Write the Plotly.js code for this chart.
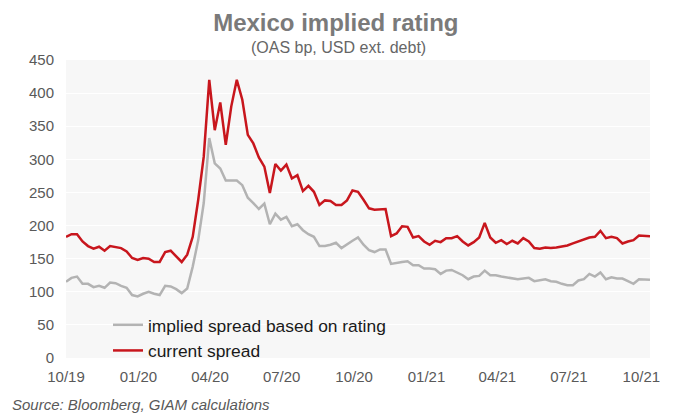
<!DOCTYPE html>
<html>
<head>
<meta charset="utf-8">
<script src="https://cdn.plot.ly/plotly-3.0.1.min.js"></script>
<style>html,body{margin:0;padding:0;background:#fff;}#chart{width:684px;height:414px;}</style>
</head>
<body>
<div id="chart"></div>
<script>
// Weekly observations starting 2019-10-01
const startDate = "2019-10-01";
const seriesNames = ["implied spread based on rating", "current spread"];
const impliedSpread = [
  115,121,123,112,112,107,109,106,114,113,
  109,106,95,93,97,100,97,95,109,108,
  104,98,105,138,178,234,332,294,286,268,
  268,268,261,242,234,225,233,202,218,209,
  213,199,202,193,187,183,169,169,171,174,
  166,172,177,182,171,163,160,164,164,142,
  144,145,146,140,140,135,135,134,127,132,
  133,129,125,119,123,124,132,125,125,123,
  122,121,119,120,121,116,118,119,116,115,
  112,110,110,117,119,127,123,129,119,122,
  120,120,116,112,119,118,118
];
const currentSpread = [
  183,187,187,176,169,165,168,162,169,168,
  166,161,151,148,151,150,145,145,160,162,
  153,145,156,183,239,304,420,344,386,322,
  380,420,390,337,324,303,289,249,293,283,
  292,271,276,252,260,251,231,238,237,231,
  231,238,253,251,239,226,224,225,225,184,
  188,199,198,182,184,176,171,177,175,181,
  181,184,176,170,175,182,204,182,174,178,
  172,177,173,181,176,166,165,167,166,167,
  168,170,173,176,180,182,183,192,181,183,
  181,173,176,178,185,184,184
];
const yTicks = [0,50,100,150,200,250,300,350,400,450];

function weeklyDates(start, n) {
  const out = [];
  const d0 = new Date(start + "T00:00:00Z");
  for (let i = 0; i < n; i++) {
    const d = new Date(d0.getTime() + i * 7 * 86400000);
    out.push(d.toISOString().slice(0, 10));
  }
  return out;
}
const dates = weeklyDates(startDate, currentSpread.length);

const FONT = "Liberation Sans, Arial, sans-serif";
const traces = [
  {x: dates, y: impliedSpread, name: seriesNames[0], type: "scatter", mode: "lines",
   line: {color: "#b3b3b3", width: 2.5}},
  {x: dates, y: currentSpread, name: seriesNames[1], type: "scatter", mode: "lines",
   line: {color: "#c8161d", width: 2.5}}
];
const layout = {
  width: 684, height: 414,
  margin: {l: 66, r: 34, t: 60, b: 56},
  paper_bgcolor: "#ffffff",
  plot_bgcolor: "#f7f7f7",
  font: {family: FONT, color: "#595959", size: 15},
  title: {text: "<b>Mexico implied rating</b>", font: {family: FONT, size: 24, color: "#7a7a7a"},
          xref: "container", x: 0.491, xanchor: "center", yref: "container", y: 1 - 23/414, yanchor: "middle"},
  annotations: [
    {text: "(OAS bp, USD ext. debt)", xref: "paper", yref: "paper", x: (338-66)/584, y: 1 + (60-47)/298,
     xanchor: "center", yanchor: "middle", showarrow: false, font: {family: FONT, size: 16, color: "#666666"}},
    {text: "<i>Source: Bloomberg, GIAM calculations</i>", xref: "paper", yref: "paper",
     x: (10-66)/584, y: -(404-358)/298, xanchor: "left", yanchor: "middle", showarrow: false,
     font: {family: FONT, size: 15, color: "#595959"}}
  ],
  xaxis: {type: "date", range: [dates[0], dates[dates.length-1]], tickformat: "%m/%y",
          dtick: "M3", tick0: "2019-10-01", showgrid: false, zeroline: false, showline: false,
          ticks: "", ticklabelstandoff: 8, tickfont: {size: 15, color: "#595959"}},
  yaxis: {range: [0, 450], tickvals: yTicks, showgrid: true, gridcolor: "#ffffff", gridwidth: 1,
          zeroline: false, showline: false, ticks: "", ticklabelstandoff: 11,
          tickfont: {size: 15, color: "#595959"}},
  showlegend: true,
  legend: {x: (108-66)/584, y: (358-307)/298, xanchor: "left", yanchor: "top",
           bgcolor: "rgba(0,0,0,0)", font: {family: FONT, size: 17.4, color: "#1a1a1a"},
           tracegroupgap: 0, itemwidth: 30}
};
Plotly.newPlot("chart", traces, layout, {displayModeBar: false, staticPlot: true});
</script>
</body>
</html>
